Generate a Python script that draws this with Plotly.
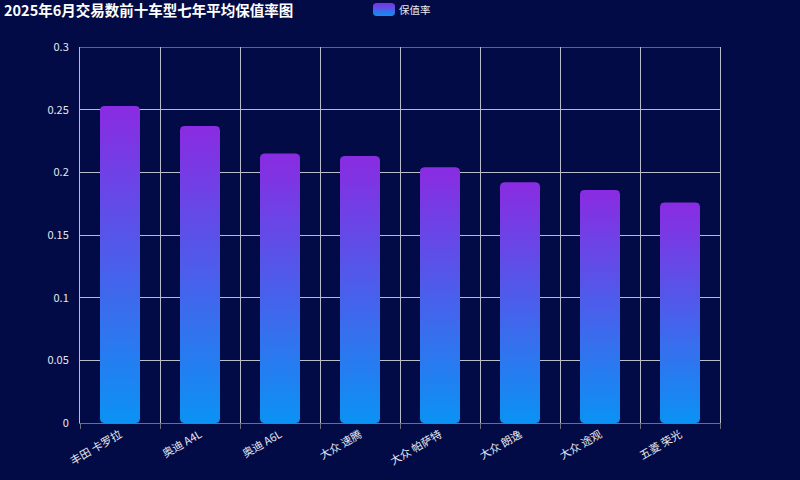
import numpy as np
import plotly.graph_objects as go

# data
models = ["丰田 卡罗拉", "奥迪 A4L", "奥迪 A6L", "大众 速腾", "大众 帕萨特", "大众 朗逸", "大众 途观", "五菱 荣光"]
retention = [0.253, 0.237, 0.215, 0.213, 0.204, 0.192, 0.186, 0.176]
y_ticks = [0, 0.05, 0.1, 0.15, 0.2, 0.25, 0.3]
y_tick_labels = ["0", "0.05", "0.1", "0.15", "0.2", "0.25", "0.3"]
series_name = "保值率"
title_text = "2025年6月交易数前十车型七年平均保值率图"

BG = "#020b45"
GRID = "#b9bccb"
TXT = "#e6e8f0"
GRAD = [[0, "#0b92f4"], [1, "#8a2be2"]]

W, H = 800, 480
# plot area in pixels (left, right, top, bottom)
PL, PR, PT, PB = 80, 720, 47, 423
# legend icon box in pixels
LL, LR, LT, LB = 373, 395, 3, 16
y_max = 0.3
bar_w = 0.5


def rounded_rect(x0, x1, y0, y1, rx, ry):
    corners = [
        (x0 + rx, y0 + ry, np.pi, 3 * np.pi / 2),
        (x1 - rx, y0 + ry, 3 * np.pi / 2, 2 * np.pi),
        (x1 - rx, y1 - ry, 0, np.pi / 2),
        (x0 + rx, y1 - ry, np.pi / 2, np.pi),
    ]
    xs, ys = [], []
    for cx, cy, a, b in corners:
        ang = np.linspace(a, b, 8)
        xs += list(cx + rx * np.cos(ang))
        ys += list(cy + ry * np.sin(ang))
    xs.append(xs[0])
    ys.append(ys[0])
    return xs, ys


# 4px corner radius expressed in data units
rx = 4 / ((PR - PL) / len(models))
ry = 4 / ((PB - PT) / y_max)

fig = go.Figure()
for i, (m, v) in enumerate(zip(models, retention)):
    xs, ys = rounded_rect(i - bar_w / 2, i + bar_w / 2, 0, v, rx, ry)
    fig.add_trace(go.Scatter(
        x=xs, y=ys, mode="lines", fill="toself",
        line=dict(width=0, color="rgba(0,0,0,0)"),
        fillgradient=dict(type="vertical", colorscale=GRAD),
        name=series_name, showlegend=False,
        hoverinfo="text", text=f"{m}: {v}", hoveron="fills",
    ))

# legend icon, drawn on its own tiny axes so it can carry the same gradient
lx, ly = rounded_rect(0, 1, 0, 1, 3 / (LR - LL), 3 / (LB - LT))
fig.add_trace(go.Scatter(
    x=lx, y=ly, xaxis="x2", yaxis="y2", mode="lines", fill="toself",
    line=dict(width=0, color="rgba(0,0,0,0)"),
    fillgradient=dict(type="vertical", colorscale=GRAD),
    showlegend=False, hoverinfo="skip",
))

fig.update_layout(
    width=W, height=H,
    margin=dict(l=0, r=0, t=0, b=0, autoexpand=False),
    paper_bgcolor=BG, plot_bgcolor=BG,
    font=dict(family="Noto Sans CJK SC, Noto Sans, sans-serif", color=TXT, size=11),
    title=dict(text="<b>" + title_text + "</b>", x=0.005, xanchor="left",
               y=1 - 11 / H, yanchor="middle", font=dict(size=14.5, color="#ffffff")),
    showlegend=False,
    xaxis=dict(
        domain=[PL / W, PR / W], automargin=False,
        range=[-0.5, len(models) - 0.5],
        tickvals=list(range(len(models))), ticktext=models,
        tickangle=-30, ticks="", showgrid=False, zeroline=False,
        showline=True, linecolor="#6e7079", linewidth=1,
        minor=dict(tick0=-0.5, dtick=1, showgrid=True, gridcolor=GRID, gridwidth=1,
                   ticks="outside", ticklen=5, tickcolor="#6e7079"),
        tickfont=dict(size=11, color=TXT),
    ),
    yaxis=dict(
        domain=[1 - PB / H, 1 - PT / H], automargin=False,
        range=[0, y_max], tickvals=y_ticks, ticktext=y_tick_labels,
        showgrid=True, gridcolor=GRID, gridwidth=1, zeroline=False,
        showline=True, mirror=True, linecolor=GRID, linewidth=1,
        ticks="", ticklabelstandoff=8,
        tickfont=dict(size=11, color=TXT),
    ),
    xaxis2=dict(domain=[LL / W, LR / W], range=[0, 1], anchor="y2", visible=False,
                fixedrange=True, automargin=False),
    yaxis2=dict(domain=[1 - LB / H, 1 - LT / H], range=[0, 1], anchor="x2", visible=False,
                fixedrange=True, automargin=False),
)
# top grid line at the axis maximum
fig.add_shape(type="line", xref="x domain", yref="y", x0=0, x1=1, y0=y_max, y1=y_max,
              line=dict(color=GRID, width=1), layer="below")
fig.add_annotation(text=series_name, xref="paper", yref="paper",
                   x=(LR + 2) / W, y=1 - (LT + LB) / 2 / H, xanchor="left", yanchor="middle",
                   showarrow=False, font=dict(size=10.5, color=TXT))

fig.write_html("out.html", config={"displayModeBar": False},
               post_script="document.body.style.margin='0';")
